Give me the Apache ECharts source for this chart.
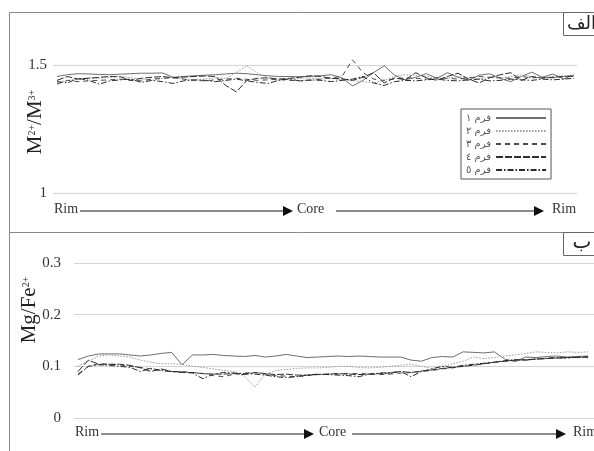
<!DOCTYPE html>
<html><head><meta charset="utf-8">
<script src="https://cdn.jsdelivr.net/npm/echarts@6/dist/echarts.min.js"></script>
<style>html,body{margin:0;padding:0;background:#fff}#c{width:594px;height:451px}</style>
</head><body><div id="c"></div>
<script>
// ---- data ----
const seriesNames = ['فرم ١','فرم ٢','فرم ٣','فرم ٤','فرم ٥'];
const topTicks = [1, 1.5];
const bottomTicks = [0, 0.1, 0.2, 0.3];
// M2+/M3+ (upper panel)
const top1 = [1.455,1.462,1.466,1.465,1.463,1.462,1.464,1.466,1.468,1.468,1.469,1.452,1.455,1.458,1.460,1.462,1.465,1.468,1.466,1.462,1.458,1.455,1.455,1.454,1.456,1.458,1.462,1.450,1.418,1.440,1.470,1.497,1.460,1.442,1.452,1.466,1.448,1.470,1.452,1.440,1.460,1.466,1.448,1.435,1.455,1.472,1.452,1.465,1.445,1.462];
const top2 = [1.430,1.440,1.445,1.450,1.448,1.452,1.455,1.450,1.445,1.440,1.448,1.452,1.445,1.440,1.445,1.450,1.447,1.470,1.497,1.468,1.448,1.440,1.445,1.448,1.450,1.445,1.448,1.442,1.440,1.435,1.430,1.440,1.455,1.462,1.460,1.455,1.450,1.448,1.455,1.450,1.445,1.452,1.448,1.455,1.462,1.455,1.450,1.455,1.458,1.458];
const top3 = [1.425,1.440,1.435,1.438,1.440,1.442,1.445,1.440,1.438,1.445,1.448,1.450,1.445,1.440,1.438,1.442,1.445,1.448,1.444,1.440,1.442,1.445,1.440,1.438,1.440,1.445,1.450,1.455,1.520,1.470,1.445,1.440,1.445,1.450,1.448,1.445,1.450,1.448,1.445,1.450,1.455,1.452,1.450,1.448,1.455,1.450,1.452,1.450,1.455,1.455];
const top4 = [1.440,1.455,1.445,1.448,1.452,1.455,1.454,1.440,1.448,1.452,1.455,1.450,1.453,1.455,1.457,1.455,1.420,1.395,1.440,1.448,1.450,1.445,1.448,1.452,1.458,1.455,1.448,1.446,1.440,1.452,1.470,1.430,1.450,1.442,1.470,1.450,1.440,1.455,1.468,1.445,1.430,1.450,1.462,1.470,1.440,1.455,1.448,1.452,1.455,1.458];
const top5 = [1.435,1.430,1.448,1.440,1.425,1.438,1.442,1.445,1.432,1.440,1.435,1.428,1.438,1.442,1.440,1.435,1.440,1.445,1.438,1.432,1.428,1.440,1.445,1.438,1.442,1.440,1.435,1.440,1.445,1.455,1.430,1.420,1.435,1.440,1.438,1.442,1.445,1.440,1.438,1.442,1.445,1.438,1.440,1.445,1.442,1.440,1.445,1.442,1.445,1.448];
// Mg/Fe2+ (lower panel)
const bot1 = [0.113,0.120,0.124,0.124,0.124,0.122,0.120,0.122,0.125,0.127,0.103,0.122,0.122,0.123,0.121,0.120,0.119,0.121,0.118,0.120,0.123,0.120,0.117,0.118,0.119,0.120,0.119,0.120,0.119,0.118,0.118,0.118,0.112,0.110,0.117,0.119,0.118,0.128,0.127,0.126,0.128,0.114,0.109,0.118,0.117,0.119,0.120,0.118,0.119,0.120];
const bot2 = [0.100,0.110,0.120,0.122,0.120,0.118,0.112,0.108,0.105,0.105,0.104,0.100,0.098,0.095,0.092,0.090,0.080,0.060,0.085,0.092,0.094,0.096,0.097,0.097,0.098,0.100,0.100,0.098,0.097,0.098,0.100,0.102,0.104,0.100,0.096,0.100,0.105,0.110,0.118,0.115,0.117,0.120,0.122,0.125,0.128,0.127,0.126,0.128,0.127,0.128];
const bot3 = [0.085,0.100,0.105,0.104,0.103,0.100,0.098,0.095,0.092,0.090,0.090,0.088,0.086,0.082,0.080,0.085,0.087,0.088,0.085,0.082,0.081,0.080,0.082,0.084,0.085,0.085,0.086,0.086,0.085,0.084,0.085,0.087,0.088,0.090,0.092,0.095,0.097,0.100,0.103,0.105,0.108,0.110,0.112,0.112,0.114,0.115,0.116,0.117,0.118,0.118];
const bot4 = [0.090,0.112,0.104,0.104,0.104,0.102,0.097,0.090,0.095,0.090,0.088,0.088,0.086,0.085,0.085,0.086,0.084,0.088,0.086,0.084,0.085,0.083,0.083,0.084,0.085,0.086,0.085,0.084,0.085,0.086,0.087,0.090,0.088,0.091,0.093,0.096,0.098,0.100,0.102,0.105,0.108,0.110,0.112,0.113,0.114,0.115,0.116,0.117,0.117,0.118];
const bot5 = [0.083,0.100,0.103,0.102,0.100,0.098,0.090,0.096,0.092,0.090,0.089,0.087,0.076,0.085,0.088,0.087,0.086,0.085,0.083,0.080,0.078,0.080,0.083,0.085,0.084,0.083,0.082,0.080,0.085,0.087,0.088,0.090,0.080,0.090,0.095,0.100,0.098,0.102,0.104,0.106,0.108,0.111,0.113,0.112,0.114,0.116,0.117,0.116,0.118,0.118];

const topData = [top1, top2, top3, top4, top5];
const botData = [bot1, bot2, bot3, bot4, bot5];

// ---- styles ----
const styles = [
  {color:'#6e6e6e', type:'solid', width:1},
  {color:'#9a9a9a', type:[1.5,1.5], width:1},
  {color:'#4a4a4a', type:[5,4], width:1},
  {color:'#2e2e2e', type:[7,2], width:1},
  {color:'#2a2a2a', type:[6,2,1.5,2], width:1}
];
const serif = '"Liberation Serif","DejaVu Serif",serif';

const chart = echarts.init(document.getElementById('c'), null, {renderer:'canvas'});

function mkSeries(arr, gi) {
  return arr.map((vals, k) => ({
    name: seriesNames[k], type:'line', xAxisIndex: gi, yAxisIndex: gi,
    data: vals.map((v, i) => [i, v]), symbol:'none', showSymbol:false,
    clip:false, silent:true, animation:false,
    lineStyle: Object.assign({}, styles[k]),
    itemStyle: {color: styles[k].color},
    z: 3
  }));
}

const series = mkSeries(topData, 0).concat(mkSeries(botData, 1));

function arrowRow(y, xs) {
  const els = [];
  els.push({type:'text', left: xs[0], top: y - 9, style:{text:'Rim', font:'14px ' + serif, fill:'#333'}});
  els.push({type:'line', shape:{x1:xs[1], y1:y, x2:xs[2], y2:y}, style:{stroke:'#666', lineWidth:1.5}});
  els.push({type:'polygon', shape:{points:[[xs[2],y-5],[xs[2]+10,y],[xs[2],y+5]]}, style:{fill:'#111'}});
  els.push({type:'text', left: xs[3], top: y - 9, style:{text:'Core', font:'14px ' + serif, fill:'#333'}});
  els.push({type:'line', shape:{x1:xs[4], y1:y, x2:xs[5], y2:y}, style:{stroke:'#666', lineWidth:1.5}});
  els.push({type:'polygon', shape:{points:[[xs[5],y-5],[xs[5]+10,y],[xs[5],y+5]]}, style:{fill:'#111'}});
  els.push({type:'text', left: xs[6], top: y - 9, style:{text:'Rim', font:'14px ' + serif, fill:'#333'}});
  return els;
}

const titleRich = {
  m:{font:'21px ' + serif, fill:'#222', lineHeight:24, verticalAlign:'bottom'},
  s:{font:'10px ' + serif, fill:'#222', lineHeight:24, verticalAlign:'bottom', padding:[0,0,9,0]}
};

const graphic = [
  {type:'line', shape:{x1:9.5, y1:12.5, x2:594, y2:12.5}, style:{stroke:'#888', lineWidth:1}},
  {type:'line', shape:{x1:9.5, y1:12.5, x2:9.5, y2:451}, style:{stroke:'#888', lineWidth:1}},
  {type:'line', shape:{x1:9.5, y1:232.5, x2:594, y2:232.5}, style:{stroke:'#888', lineWidth:1}},
  {type:'rect', shape:{x:563.5, y:12.5, width:40, height:23}, style:{fill:'#fff', stroke:'#666', lineWidth:1}},
  {type:'text', x:596, y:24, style:{text:'الف', font:'18px "DejaVu Sans",sans-serif', fill:'#222', align:'right', verticalAlign:'middle'}},
  {type:'rect', shape:{x:563.5, y:232.5, width:40, height:23}, style:{fill:'#fff', stroke:'#666', lineWidth:1}},
  {type:'text', x:582, y:243, style:{text:'ب', font:'20px "DejaVu Sans",sans-serif', fill:'#222', align:'center', verticalAlign:'middle'}},
  {type:'text', x:34, y:122, rotation:Math.PI/2, style:{
    text:'{m|M}{s|2+}{m|/M}{s|3+}', align:'center', verticalAlign:'middle', rich:titleRich
  }},
  {type:'text', x:28, y:310, rotation:Math.PI/2, style:{
    text:'{m|Mg/Fe}{s|2+}', align:'center', verticalAlign:'middle', rich:titleRich
  }}
].concat(arrowRow(211, [54, 80, 283, 297, 336, 534, 552]))
 .concat(arrowRow(434, [75, 101, 304, 319, 352, 556, 573]));

const N = top1.length;
chart.setOption({
  animation:false,
  backgroundColor:'#fff',
  grid:[
    {left:53, top:65, width:524, height:128},
    {left:74, top:263, width:532, height:155}
  ],
  xAxis:[
    {gridIndex:0, type:'value', min:-0.38, max:N - 1 + 0.28, show:false},
    {gridIndex:1, type:'value', min:-0.38, max:N - 1 + 0.57, show:false}
  ],
  yAxis:[
    {gridIndex:0, type:'value', min:topTicks[0], max:topTicks[topTicks.length-1], interval:0.5,
     axisLine:{show:false}, axisTick:{show:false},
     axisLabel:{margin:6, fontFamily:serif, fontSize:15, color:'#333', formatter:v => String(v)},
     splitLine:{lineStyle:{color:'#d4d4d4', width:1}}},
    {gridIndex:1, type:'value', min:bottomTicks[0], max:bottomTicks[bottomTicks.length-1], interval:0.1,
     axisLine:{show:false}, axisTick:{show:false},
     axisLabel:{margin:13, fontFamily:serif, fontSize:15, color:'#333', formatter:v => v === 0 ? '0' : v.toFixed(1)},
     splitLine:{lineStyle:{color:'#d4d4d4', width:1}}}
  ],
  legend:{
    data: seriesNames, orient:'vertical', left:461, top:109, align:'right',
    itemWidth:50, itemHeight:10, itemGap:3, padding:[4,4,4,5],
    borderColor:'#555', borderWidth:1, backgroundColor:'#fff',
    itemStyle:{opacity:0},
    textStyle:{fontFamily:'"DejaVu Sans",sans-serif', fontSize:10, color:'#555'},
    selectedMode:false
  },
  series: series,
  graphic: graphic
});
</script></body></html>
